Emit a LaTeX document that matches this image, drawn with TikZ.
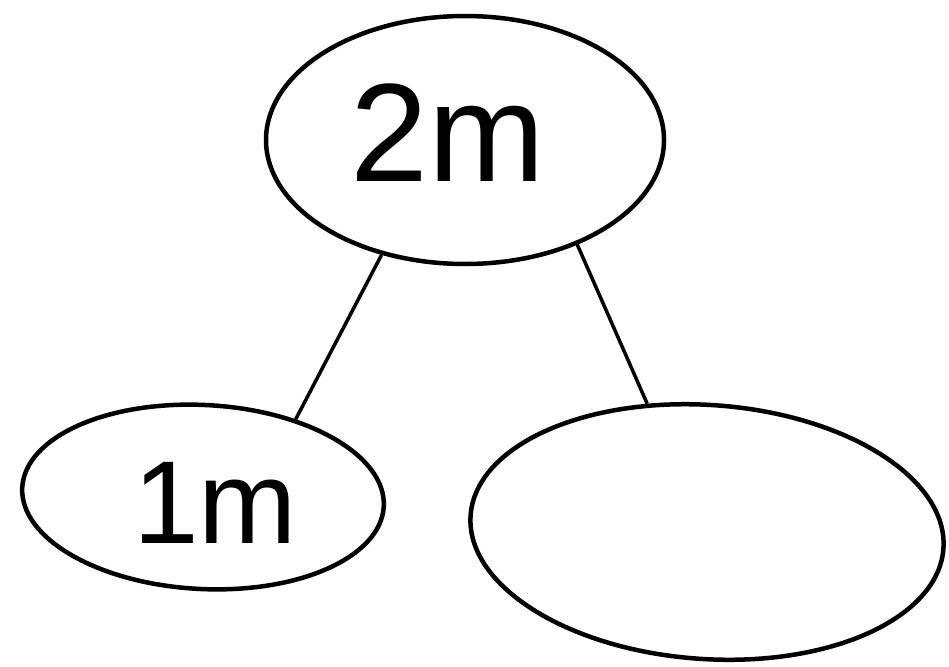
\documentclass[tikz,border=0pt]{standalone}
\usepackage{fontspec}
\setmainfont{Liberation Sans}
\usetikzlibrary{shapes.geometric}
\begin{document}
\begin{tikzpicture}[x=1pt,y=-1pt,
  bubble/.style={draw=black, ellipse, line width=4.5pt, inner sep=0pt},
  link/.style={draw=black, line width=3.5pt}]
\useasboundingbox (0,0) rectangle (949,666);
\fill[white] (0,0) rectangle (949,666);
\node[bubble, minimum width=398pt, minimum height=248pt] (top) at (465,140) {};
\node (toptext) at (448,133) {\fontsize{140}{140}\selectfont 2m};
\node[bubble, minimum width=362pt, minimum height=184pt, rotate=-3] (left) at (203,497) {};
\node (lefttext) at (215,503) {\fontsize{118}{118}\selectfont 1m};
\node[bubble, minimum width=474pt, minimum height=254pt, rotate=-4] (right) at (707,532) {};
\draw[link] (top.234) -- (left.43);
\draw[link] (top.317) -- (right.119);
\end{tikzpicture}
\end{document}
